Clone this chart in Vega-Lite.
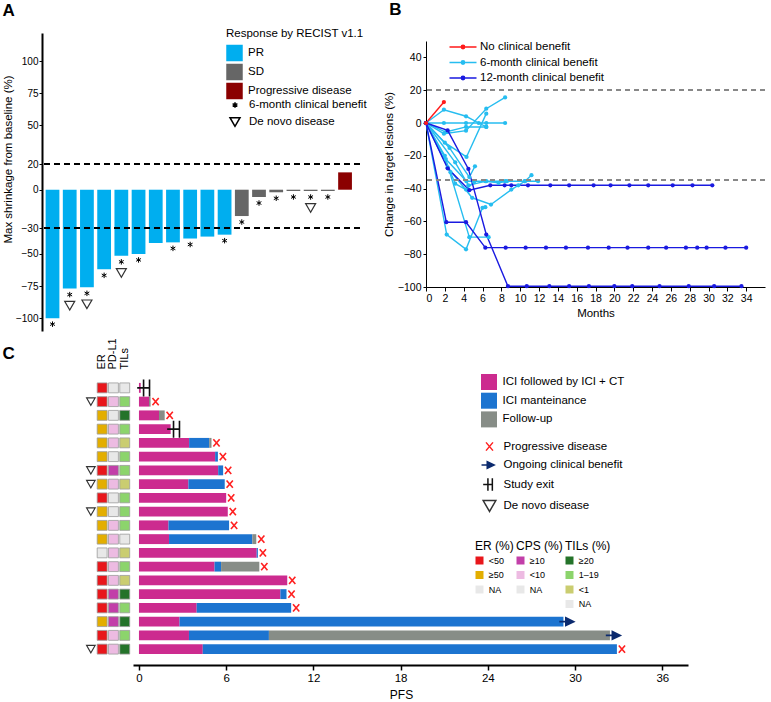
{
 "$schema": "https://vega.github.io/schema/vega-lite/v6.json",
 "padding": {"left": 2, "top": 1, "right": 0, "bottom": 0},
 "background": "white",
 "config": {
  "font": "Liberation Sans",
  "view": {"stroke": null},
  "axis": {"grid": false, "domainColor": "black", "tickColor": "black", "labelColor": "black", "titleColor": "black", "labelFontSize": 11, "titleFontSize": 11.5, "titleFontWeight": "normal", "labelFont": "Liberation Sans", "titleFont": "Liberation Sans", "labelOverlap": false},
  "legend": {"labelFontSize": 11.5, "labelColor": "black", "titleColor": "black", "titleFontWeight": "normal", "padding": 0, "labelFont": "Liberation Sans", "titleFont": "Liberation Sans"},
  "title": {"color": "black", "font": "Liberation Sans"}
 },
 "datasets": {
  "a": [
   {"i":1,"v":-100,"r":"PR","c6":true,"dn":false},
   {"i":2,"v":-77,"r":"PR","c6":true,"dn":true},
   {"i":3,"v":-76,"r":"PR","c6":true,"dn":true},
   {"i":4,"v":-62,"r":"PR","c6":true,"dn":false},
   {"i":5,"v":-51.5,"r":"PR","c6":true,"dn":true},
   {"i":6,"v":-50,"r":"PR","c6":true,"dn":false},
   {"i":7,"v":-41.5,"r":"PR","c6":false,"dn":false},
   {"i":8,"v":-41,"r":"PR","c6":true,"dn":false},
   {"i":9,"v":-38,"r":"PR","c6":true,"dn":false},
   {"i":10,"v":-36.5,"r":"PR","c6":false,"dn":false},
   {"i":11,"v":-35,"r":"PR","c6":true,"dn":false},
   {"i":12,"v":-20.5,"r":"SD","c6":true,"dn":false},
   {"i":13,"v":-5.7,"r":"SD","c6":true,"dn":false},
   {"i":14,"v":-2,"r":"SD","c6":true,"dn":false},
   {"i":15,"v":-1,"r":"SD","c6":true,"dn":false},
   {"i":16,"v":-1,"r":"SD","c6":true,"dn":true},
   {"i":17,"v":-1,"r":"SD","c6":true,"dn":false},
   {"i":18,"v":13.5,"r":"Progressive disease","c6":false,"dn":false}
  ],
  "b": [
   {"p":"c1","g":"S","m":0,"v":0},{"p":"c1","g":"S","m":1.9,"v":8.1},{"p":"c1","g":"S","m":4.25,"v":4.1},{"p":"c1","g":"S","m":5.6,"v":0},{"p":"c1","g":"S","m":6.4,"v":-2.4},
   {"p":"c2","g":"S","m":0,"v":0},{"p":"c2","g":"S","m":1.9,"v":-6.5},{"p":"c2","g":"S","m":4.25,"v":-4.7},{"p":"c2","g":"S","m":6.4,"v":8.7},{"p":"c2","g":"S","m":8.4,"v":15.6},
   {"p":"c3","g":"S","m":0,"v":0},{"p":"c3","g":"S","m":1.9,"v":0},{"p":"c3","g":"S","m":4.25,"v":0},{"p":"c3","g":"S","m":6.4,"v":0},{"p":"c3","g":"S","m":8.4,"v":0},
   {"p":"c4","g":"S","m":0,"v":0},{"p":"c4","g":"S","m":2.0,"v":-12},{"p":"c4","g":"S","m":4.3,"v":-20.7},{"p":"c4","g":"S","m":6.4,"v":5.7},
   {"p":"c5","g":"S","m":0,"v":0},{"p":"c5","g":"S","m":2.1,"v":-5.5},{"p":"c5","g":"S","m":4.25,"v":-2.4},{"p":"c5","g":"S","m":6.4,"v":-2.4},
   {"p":"c6","g":"S","m":0,"v":0},{"p":"c6","g":"S","m":2.1,"v":-22},{"p":"c6","g":"S","m":4.3,"v":-35.5},{"p":"c6","g":"S","m":6.4,"v":-35.5},{"p":"c6","g":"S","m":8.4,"v":-35.5},{"p":"c6","g":"S","m":10.5,"v":-35.5},{"p":"c6","g":"S","m":11.9,"v":-35.5},
   {"p":"c7","g":"S","m":0,"v":0},{"p":"c7","g":"S","m":2.3,"v":-27},{"p":"c7","g":"S","m":4.9,"v":-45.6},{"p":"c7","g":"S","m":6.9,"v":-49.7},{"p":"c7","g":"S","m":9.06,"v":-40.6},{"p":"c7","g":"S","m":9.8,"v":-38},{"p":"c7","g":"S","m":10.5,"v":-35.5},{"p":"c7","g":"S","m":11.2,"v":-31.8},
   {"p":"c8","g":"S","m":0,"v":0},{"p":"c8","g":"S","m":2.5,"v":-15.2},{"p":"c8","g":"S","m":4.6,"v":-33},{"p":"c8","g":"S","m":5.2,"v":-26.4},
   {"p":"c9","g":"S","m":0,"v":0},{"p":"c9","g":"S","m":2.2,"v":-68},{"p":"c9","g":"S","m":4.25,"v":-77},{"p":"c9","g":"S","m":6.0,"v":-51.7},{"p":"c9","g":"S","m":6.3,"v":-51.3},
   {"p":"c10","g":"S","m":0,"v":0},{"p":"c10","g":"S","m":2.0,"v":-20},{"p":"c10","g":"S","m":4.6,"v":-69.6},{"p":"c10","g":"S","m":6.65,"v":-69.6},
   {"p":"c11","g":"S","m":0,"v":0},{"p":"c11","g":"S","m":3.1,"v":-24},{"p":"c11","g":"S","m":4.5,"v":-38},{"p":"c11","g":"S","m":6.3,"v":-35.5},{"p":"c11","g":"S","m":7.7,"v":-36.5},{"p":"c11","g":"S","m":8.6,"v":-35.5},
   {"p":"c12","g":"S","m":0,"v":0},{"p":"c12","g":"S","m":2.6,"v":-30},{"p":"c12","g":"S","m":3.1,"v":-37},{"p":"c12","g":"S","m":4.25,"v":-40.6},{"p":"c12","g":"S","m":5.1,"v":-36},
   {"p":"b1","g":"T","m":0,"v":0},{"p":"b1","g":"T","m":2.3,"v":-4.5},{"p":"b1","g":"T","m":4.5,"v":-28},{"p":"b1","g":"T","m":6.4,"v":-68},{"p":"b1","g":"T","m":8.7,"v":-99.5},{"p":"b1","g":"T","m":10.7,"v":-99.5},{"p":"b1","g":"T","m":13.1,"v":-99.5},{"p":"b1","g":"T","m":15.2,"v":-99.5},{"p":"b1","g":"T","m":17.3,"v":-99.5},{"p":"b1","g":"T","m":20.0,"v":-99.5},{"p":"b1","g":"T","m":21.9,"v":-99.5},{"p":"b1","g":"T","m":24.8,"v":-99.5},{"p":"b1","g":"T","m":27.9,"v":-99.5},{"p":"b1","g":"T","m":30.6,"v":-99.5},{"p":"b1","g":"T","m":33.5,"v":-99.5},
   {"p":"b2","g":"T","m":0,"v":0},{"p":"b2","g":"T","m":2.16,"v":-60.5},{"p":"b2","g":"T","m":4.25,"v":-60.5},{"p":"b2","g":"T","m":6.3,"v":-76},{"p":"b2","g":"T","m":8.46,"v":-76},{"p":"b2","g":"T","m":10.58,"v":-76},{"p":"b2","g":"T","m":12.74,"v":-76},{"p":"b2","g":"T","m":14.86,"v":-76},{"p":"b2","g":"T","m":17.2,"v":-76},{"p":"b2","g":"T","m":19.4,"v":-76},{"p":"b2","g":"T","m":21.4,"v":-76},{"p":"b2","g":"T","m":23.6,"v":-76},{"p":"b2","g":"T","m":25.5,"v":-76},{"p":"b2","g":"T","m":27.6,"v":-76},{"p":"b2","g":"T","m":28.8,"v":-76},{"p":"b2","g":"T","m":29.8,"v":-76},{"p":"b2","g":"T","m":31.8,"v":-76},{"p":"b2","g":"T","m":34.0,"v":-76},
   {"p":"b3","g":"T","m":0,"v":0},{"p":"b3","g":"T","m":2.3,"v":-27.6},{"p":"b3","g":"T","m":4.6,"v":-41},{"p":"b3","g":"T","m":6.83,"v":-38},{"p":"b3","g":"T","m":8.35,"v":-38},{"p":"b3","g":"T","m":9.06,"v":-38},{"p":"b3","g":"T","m":10.83,"v":-38},{"p":"b3","g":"T","m":13.2,"v":-38},{"p":"b3","g":"T","m":15.2,"v":-38},{"p":"b3","g":"T","m":17.8,"v":-38},{"p":"b3","g":"T","m":19.6,"v":-38},{"p":"b3","g":"T","m":21.6,"v":-38},{"p":"b3","g":"T","m":23.6,"v":-38},{"p":"b3","g":"T","m":26.2,"v":-38},{"p":"b3","g":"T","m":28.3,"v":-38},{"p":"b3","g":"T","m":30.4,"v":-38},
   {"p":"r1","g":"N","m":0,"v":0},{"p":"r1","g":"N","m":1.9,"v":12.8}
  ],
  "cp": [
   {"pid":1,"er":"<50","cps":"NA","tils":"NA","dn":false,"ev":"Study exit","pfs":0.12},
   {"pid":2,"er":"<50","cps":"<10","tils":"1–19","dn":true,"ev":"Progressive disease","pfs":0.8},
   {"pid":3,"er":"≥50","cps":"NA","tils":"≥20","dn":false,"ev":"Progressive disease","pfs":1.77},
   {"pid":4,"er":"≥50","cps":"<10","tils":"1–19","dn":false,"ev":"Study exit","pfs":2.18},
   {"pid":5,"er":"≥50","cps":"<10","tils":"<1","dn":false,"ev":"Progressive disease","pfs":4.99},
   {"pid":6,"er":"≥50","cps":"NA","tils":"1–19","dn":false,"ev":"Progressive disease","pfs":5.43},
   {"pid":7,"er":"<50","cps":"≥10","tils":"1–19","dn":true,"ev":"Progressive disease","pfs":5.79},
   {"pid":8,"er":"≥50","cps":"<10","tils":"<1","dn":true,"ev":"Progressive disease","pfs":5.9},
   {"pid":9,"er":"<50","cps":"NA","tils":"1–19","dn":false,"ev":"Progressive disease","pfs":6.0},
   {"pid":10,"er":"≥50","cps":"NA","tils":"1–19","dn":true,"ev":"Progressive disease","pfs":6.11},
   {"pid":11,"er":"≥50","cps":"<10","tils":"1–19","dn":false,"ev":"Progressive disease","pfs":6.2},
   {"pid":12,"er":"≥50","cps":"<10","tils":"NA","dn":false,"ev":"Progressive disease","pfs":8.07},
   {"pid":13,"er":"NA","cps":"<10","tils":"<1","dn":false,"ev":"Progressive disease","pfs":8.18},
   {"pid":14,"er":"<50","cps":"<10","tils":"1–19","dn":false,"ev":"Progressive disease","pfs":8.28},
   {"pid":15,"er":"<50","cps":"<10","tils":"<1","dn":false,"ev":"Progressive disease","pfs":10.2},
   {"pid":16,"er":"<50","cps":"≥10","tils":"≥20","dn":false,"ev":"Progressive disease","pfs":10.15},
   {"pid":17,"er":"<50","cps":"≥10","tils":"1–19","dn":false,"ev":"Progressive disease","pfs":10.47},
   {"pid":18,"er":"≥50","cps":"≥10","tils":"≥20","dn":false,"ev":"Ongoing clinical benefit","pfs":29.2},
   {"pid":19,"er":"<50","cps":"<10","tils":"1–19","dn":false,"ev":"Ongoing clinical benefit","pfs":32.4},
   {"pid":20,"er":"<50","cps":"<10","tils":"≥20","dn":true,"ev":"Progressive disease","pfs":32.88}
  ],
  "cs": [
   {"pid":1,"ph":"ICI followed by ICI + CT","s":0,"e":0.12},
   {"pid":2,"ph":"ICI followed by ICI + CT","s":0,"e":0.69},{"pid":2,"ph":"Follow-up","s":0.69,"e":0.8},
   {"pid":3,"ph":"ICI followed by ICI + CT","s":0,"e":1.38},{"pid":3,"ph":"Follow-up","s":1.38,"e":1.77},
   {"pid":4,"ph":"ICI followed by ICI + CT","s":0,"e":2.18},
   {"pid":5,"ph":"ICI followed by ICI + CT","s":0,"e":3.45},{"pid":5,"ph":"ICI manteinance","s":3.45,"e":4.83},{"pid":5,"ph":"Follow-up","s":4.83,"e":4.99},
   {"pid":6,"ph":"ICI followed by ICI + CT","s":0,"e":5.24},{"pid":6,"ph":"ICI manteinance","s":5.24,"e":5.43},
   {"pid":7,"ph":"ICI followed by ICI + CT","s":0,"e":5.45},{"pid":7,"ph":"ICI manteinance","s":5.45,"e":5.79},
   {"pid":8,"ph":"ICI followed by ICI + CT","s":0,"e":3.4},{"pid":8,"ph":"ICI manteinance","s":3.4,"e":5.9},
   {"pid":9,"ph":"ICI followed by ICI + CT","s":0,"e":6.0},
   {"pid":10,"ph":"ICI followed by ICI + CT","s":0,"e":6.11},
   {"pid":11,"ph":"ICI followed by ICI + CT","s":0,"e":2.03},{"pid":11,"ph":"ICI manteinance","s":2.03,"e":6.2},
   {"pid":12,"ph":"ICI followed by ICI + CT","s":0,"e":2.07},{"pid":12,"ph":"ICI manteinance","s":2.07,"e":7.8},{"pid":12,"ph":"Follow-up","s":7.8,"e":8.07},
   {"pid":13,"ph":"ICI followed by ICI + CT","s":0,"e":8.1},{"pid":13,"ph":"ICI manteinance","s":8.1,"e":8.18},
   {"pid":14,"ph":"ICI followed by ICI + CT","s":0,"e":5.2},{"pid":14,"ph":"ICI manteinance","s":5.2,"e":5.65},{"pid":14,"ph":"Follow-up","s":5.65,"e":8.28},
   {"pid":15,"ph":"ICI followed by ICI + CT","s":0,"e":10.2},
   {"pid":16,"ph":"ICI followed by ICI + CT","s":0,"e":9.73},{"pid":16,"ph":"ICI manteinance","s":9.73,"e":10.15},
   {"pid":17,"ph":"ICI followed by ICI + CT","s":0,"e":3.97},{"pid":17,"ph":"ICI manteinance","s":3.97,"e":10.47},
   {"pid":18,"ph":"ICI followed by ICI + CT","s":0,"e":2.79},{"pid":18,"ph":"ICI manteinance","s":2.79,"e":29.2},
   {"pid":19,"ph":"ICI followed by ICI + CT","s":0,"e":3.44},{"pid":19,"ph":"ICI manteinance","s":3.44,"e":8.94},{"pid":19,"ph":"Follow-up","s":8.94,"e":32.4},
   {"pid":20,"ph":"ICI followed by ICI + CT","s":0,"e":4.39},{"pid":20,"ph":"ICI manteinance","s":4.39,"e":32.88}
  ]
 },
 "resolve": {"scale": {"color": "independent", "shape": "independent", "fill": "independent", "stroke": "independent", "size": "independent"}},
 "spacing": 6,
 "vconcat": [
  {
   "spacing": 16,
   "resolve": {"scale": {"color": "independent", "shape": "independent", "fill": "independent", "stroke": "independent", "size": "independent"}},
   "hconcat": [
    {
     "width": 318, "height": 298,
     "title": {"text": "A", "anchor": "start", "frame": "bounds", "fontSize": 17, "fontWeight": "bold", "offset": 8},
     "data": {"name": "a"},
     "layer": [
      {"mark": {"type": "bar"},
       "encoding": {
        "x": {"field": "i", "type": "ordinal", "axis": null, "scale": {"paddingInner": 0.2, "paddingOuter": 0.34, "align": 0.31}},
        "y": {"field": "v", "type": "quantitative", "scale": {"domain": [-110, 122], "nice": false, "zero": false},
              "axis": {"values": [-100, -75, -50, -30, 0, 20, 50, 75, 100], "tickCount": 40, "labelOverlap": false, "title": "Max shrinkage from baseline (%)", "titleY": 126, "titlePadding": 2, "domainWidth": 2, "tickSize": 3, "labelPadding": 1, "labelFontSize": 10}},
        "color": {"field": "r", "type": "nominal", "scale": {"domain": ["PR", "SD", "Progressive disease"], "range": ["#00AEEF", "#666666", "#8B0000"]},
                  "legend": {"orient": "none", "legendX": 184, "legendY": -5, "title": "Response by RECIST v1.1", "titleFontSize": 11.5, "symbolType": "square", "symbolSize": 272, "symbolStrokeWidth": 0, "rowPadding": 2, "titlePadding": 5, "labelOffset": 5}}
       }},
      {"mark": {"type": "rule", "strokeDash": [6, 4], "strokeWidth": 1.5, "color": "black"}, "encoding": {"y": {"datum": 20}}},
      {"mark": {"type": "rule", "strokeDash": [6, 4], "strokeWidth": 1.5, "color": "black"}, "encoding": {"y": {"datum": -30}}},
      {"transform": [{"filter": "datum.c6"}],
       "mark": {"type": "point", "filled": false, "color": "black", "strokeWidth": 1, "size": 100, "opacity": 1, "yOffset": 6},
       "encoding": {
        "x": {"field": "i", "type": "ordinal"},
        "y": {"field": "v", "type": "quantitative"},
        "shape": {"datum": "6-month clinical benefit", "scale": {"domain": ["6-month clinical benefit", "De novo disease"], "range": ["M0,-0.55V0.55M-0.48,-0.28L0.48,0.28M-0.48,0.28L0.48,-0.28", "triangle-down"]},
                  "legend": {"orient": "none", "legendX": 187, "legendY": 66, "title": null, "symbolSize": 100, "labelOffset": 8, "rowPadding": 3}}
       }},
      {"transform": [{"filter": "datum.dn"}],
       "mark": {"type": "point", "filled": false, "color": "#333333", "strokeWidth": 1.2, "size": 100, "opacity": 1, "yOffset": 17},
       "encoding": {
        "x": {"field": "i", "type": "ordinal"},
        "y": {"field": "v", "type": "quantitative"},
        "shape": {"datum": "De novo disease"}
       }}
     ]
    },
    {
     "width": 339, "height": 254,
     "title": {"text": "B", "anchor": "start", "frame": "bounds", "fontSize": 17, "fontWeight": "bold", "offset": 14, "dx": 6},
     "data": {"name": "b"},
     "layer": [
      {"mark": {"type": "line", "strokeWidth": 1.4},
       "encoding": {
        "x": {"field": "m", "type": "quantitative", "scale": {"domain": [0, 36], "nice": false},
              "axis": {"values": [0,2,4,6,8,10,12,14,16,18,20,22,24,26,28,30,32,34], "tickCount": 40, "labelOverlap": false, "title": "Months", "tickSize": 4, "titlePadding": 4, "labelFontSize": 10.5}},
        "y": {"field": "v", "type": "quantitative", "scale": {"domain": [-100, 50], "nice": false, "range": [254, 8]},
              "axis": {"values": [-100, -80, -60, -40, -20, 0, 20, 40], "tickCount": 40, "labelOverlap": false, "title": "Change in target lesions (%)", "tickSize": 3, "labelPadding": 2, "titlePadding": 3, "labelFontSize": 10.5}},
        "color": {"field": "g", "type": "nominal", "scale": {"domain": ["N", "S", "T"], "range": ["#FF1A1A", "#26BDF0", "#1A1AE0"]},
                  "legend": {"orient": "none", "legendX": 30, "legendY": 7, "title": null, "symbolType": "M-2.25,0H2.25M0.27,0A0.27,0.27 0 1,1 -0.27,0A0.27,0.27 0 1,1 0.27,0", "symbolSize": 144, "symbolStrokeWidth": 1.6, "rowPadding": 2.5, "labelOffset": 10,
                             "labelExpr": "datum.label == 'N' ? 'No clinical benefit' : datum.label == 'S' ? '6-month clinical benefit' : '12-month clinical benefit'"}},
        "detail": {"field": "p"},
        "order": {"field": "m"}
       }},
      {"mark": {"type": "point", "filled": true, "size": 18, "opacity": 1},
       "encoding": {
        "x": {"field": "m", "type": "quantitative"},
        "y": {"field": "v", "type": "quantitative"},
        "color": {"field": "g", "type": "nominal"}
       }},
      {"mark": {"type": "rule", "strokeDash": [5, 4], "strokeWidth": 1.2, "color": "#888888"}, "encoding": {"y": {"datum": 20}}},
      {"mark": {"type": "rule", "strokeDash": [5, 4], "strokeWidth": 1.2, "color": "#888888"}, "encoding": {"y": {"datum": -35}}}
     ]
    }
   ]
  },
  {
   "width": 645, "height": 275,
   "encoding": {
    "y": {"field": "pid", "type": "ordinal", "scale": {"paddingInner": 0.28, "paddingOuter": 0.14},
          "axis": {"title": "C", "labels": false, "ticks": false, "domain": false, "titleAngle": 0, "titleX": -40, "titleY": -28, "titleFontSize": 17, "titleFontWeight": "bold", "titleAlign": "left", "titleBaseline": "middle"}}
   },
   "resolve": {"scale": {"x": "independent", "color": "independent"}},
   "layer": [
    {
     "data": {"name": "cp"},
     "resolve": {"scale": {"color": "independent"}},
     "layer": [
      {"mark": {"type": "rect", "stroke": "#9c9c9c", "strokeWidth": 0.8},
       "encoding": {
        "x": {"datum": "ER", "type": "nominal", "scale": {"type": "band", "domain": ["DN", "ER", "PD-L1", "TILs"], "range": [43.9, 87.7], "paddingInner": 0.12, "paddingOuter": 0},
              "axis": {"orient": "top", "labelAngle": -90, "ticks": false, "domain": false, "title": null, "labelPadding": 12, "labelFontSize": 11, "labelExpr": "datum.value == 'DN' ? '' : datum.value"}},
        "color": {"field": "er", "type": "nominal", "scale": {"domain": ["<50", "≥50", "NA"], "range": ["#E8161B", "#E3AE00", "#E8E8E8"]},
                  "legend": {"orient": "none", "legendX": 433, "legendY": 160, "title": "ER (%)", "titleFontSize": 12, "symbolType": "square", "symbolSize": 64, "symbolStrokeWidth": 0, "labelFontSize": 9, "rowPadding": 4.5, "labelOffset": 4.7, "titlePadding": 3}}
       }},
      {"mark": {"type": "rect", "stroke": "#9c9c9c", "strokeWidth": 0.8},
       "encoding": {
        "x": {"datum": "PD-L1", "type": "nominal"},
        "color": {"field": "cps", "type": "nominal", "scale": {"domain": ["≥10", "<10", "NA"], "range": ["#C23FA9", "#EDBBE2", "#E8E8E8"]},
                  "legend": {"orient": "none", "legendX": 474, "legendY": 160, "title": "CPS (%)", "titleFontSize": 12, "symbolType": "square", "symbolSize": 64, "symbolStrokeWidth": 0, "labelFontSize": 9, "rowPadding": 4.5, "labelOffset": 4.7, "titlePadding": 3}}
       }},
      {"mark": {"type": "rect", "stroke": "#9c9c9c", "strokeWidth": 0.8},
       "encoding": {
        "x": {"datum": "TILs", "type": "nominal"},
        "color": {"field": "tils", "type": "nominal", "scale": {"domain": ["≥20", "1–19", "<1", "NA"], "range": ["#24732A", "#8CD46C", "#CACD70", "#E8E8E8"]},
                  "legend": {"orient": "none", "legendX": 523, "legendY": 160, "title": "TILs (%)", "titleFontSize": 12, "symbolType": "square", "symbolSize": 64, "symbolStrokeWidth": 0, "labelFontSize": 9, "rowPadding": 4.5, "labelOffset": 4.7, "titlePadding": 3}}
       }},
      {"transform": [{"filter": "datum.dn"}],
       "mark": {"type": "point", "size": 75, "strokeWidth": 1.1, "opacity": 1},
       "encoding": {
        "x": {"datum": "DN", "type": "nominal"},
        "shape": {"datum": "De novo disease", "scale": {"domain": ["Progressive disease", "Ongoing clinical benefit", "Study exit", "De novo disease"], "range": ["M-0.55,-0.65L0.55,0.65M0.55,-0.65L-0.55,0.65", "M-1.26,0H-0.3M-0.36,-0.53L0.74,0L-0.36,0.53Z", "M-1,0H0.45M-0.25,-1V1M0.45,-1V1", "triangle-down"]},
                  "legend": {"orient": "none", "legendX": 440, "legendY": 58, "title": null, "symbolSize": 160, "rowPadding": 3.5, "labelOffset": 6.5}},
        "fill": {"datum": "De novo disease", "scale": {"domain": ["Progressive disease", "Ongoing clinical benefit", "Study exit", "De novo disease"], "range": ["#FF2020", "#0B2A6E", "#000000", "#FFFFFF"]},
                 "legend": {"orient": "none", "legendX": 440, "legendY": 58, "title": null, "symbolSize": 160, "rowPadding": 3.5, "labelOffset": 6.5}},
        "stroke": {"datum": "De novo disease", "scale": {"domain": ["Progressive disease", "Ongoing clinical benefit", "Study exit", "De novo disease"], "range": ["#FF2020", "#0B2A6E", "#111111", "#333333"]},
                   "legend": {"orient": "none", "legendX": 440, "legendY": 58, "title": null, "symbolSize": 160, "rowPadding": 3.5, "labelOffset": 6.5}}
       }}
     ]
    },
    {
     "layer": [
      {"data": {"name": "cs"},
       "mark": {"type": "bar"},
       "encoding": {
        "x": {"field": "s", "type": "quantitative", "scale": {"domain": [-0.41, 37.77], "nice": false, "zero": false, "range": [91, 646]},
              "axis": {"values": [0, 6, 12, 18, 24, 30, 36], "tickCount": 40, "labelOverlap": false, "title": "PFS", "titleX": 359, "offset": 9, "domainWidth": 2, "tickSize": 5, "tickWidth": 1.5, "labelFontSize": 11.5, "titleFontSize": 12, "titlePadding": 6}},
        "x2": {"field": "e"},
        "color": {"field": "ph", "type": "nominal", "scale": {"domain": ["ICI followed by ICI + CT", "ICI manteinance", "Follow-up"], "range": ["#CC2B8F", "#1C74D0", "#878D87"]},
                  "legend": {"orient": "none", "legendX": 439, "legendY": -7, "title": null, "symbolType": "square", "symbolSize": 256, "symbolStrokeWidth": 0, "rowPadding": 2.7, "labelOffset": 5.6}}
       }},
      {"data": {"name": "cp"},
       "mark": {"type": "point", "xOffset": 5, "opacity": 1, "strokeWidth": 1.6},
       "encoding": {
        "x": {"field": "pfs", "type": "quantitative", "scale": {"domain": [-0.41, 37.77], "nice": false, "zero": false, "range": [91, 646]}},
        "shape": {"field": "ev", "type": "nominal", "scale": {"domain": ["Progressive disease", "Ongoing clinical benefit", "Study exit", "De novo disease"], "range": ["M-0.55,-0.65L0.55,0.65M0.55,-0.65L-0.55,0.65", "M-1.26,0H-0.3M-0.36,-0.53L0.74,0L-0.36,0.53Z", "M-1,0H0.45M-0.25,-1V1M0.45,-1V1", "triangle-down"]},
                  "legend": {"orient": "none", "legendX": 440, "legendY": 58, "title": null, "symbolSize": 160, "rowPadding": 3.5, "labelOffset": 6.5}},
        "fill": {"field": "ev", "type": "nominal", "scale": {"domain": ["Progressive disease", "Ongoing clinical benefit", "Study exit", "De novo disease"], "range": ["#FF2020", "#0B2A6E", "#000000", "#FFFFFF"]},
                 "legend": {"orient": "none", "legendX": 440, "legendY": 58, "title": null, "symbolSize": 160, "rowPadding": 3.5, "labelOffset": 6.5}},
        "stroke": {"field": "ev", "type": "nominal", "scale": {"domain": ["Progressive disease", "Ongoing clinical benefit", "Study exit", "De novo disease"], "range": ["#FF2020", "#0B2A6E", "#111111", "#333333"]},
                   "legend": {"orient": "none", "legendX": 440, "legendY": 58, "title": null, "symbolSize": 160, "rowPadding": 3.5, "labelOffset": 6.5}},
        "size": {"field": "ev", "type": "ordinal", "scale": {"domain": ["Progressive disease", "Ongoing clinical benefit", "Study exit"], "range": [130, 289, 100]}, "legend": null}
       }}
     ]
    }
   ]
  }
 ]
}
